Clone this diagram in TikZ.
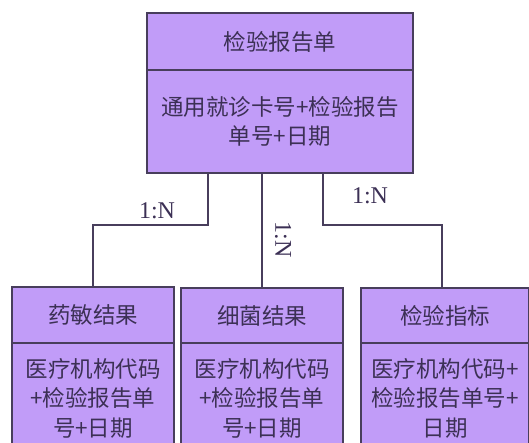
\documentclass[tikz,border=0pt]{standalone}
\usepackage{fontspec}
\newfontfamily\cjk{Noto Sans CJK SC}
\setmainfont{Liberation Serif}
\definecolor{boxfill}{RGB}{193,156,248}
\definecolor{edge}{RGB}{72,62,92}
\definecolor{txt}{RGB}{60,48,85}
\begin{document}
\begin{tikzpicture}[x=1pt,y=-1pt,
  box/.style={draw=edge, line width=1.4pt, fill=boxfill, inner sep=0pt, outer sep=0pt,
    text=txt, align=center, font=\cjk\fontsize{22.5}{29.5}\selectfont},
  link/.style={draw=edge, line width=1.4pt},
  card/.style={font=\fontsize{24}{26}\selectfont, text=txt, inner sep=0pt}]
\useasboundingbox (0,0) rectangle (529,443);
\clip (0,0) rectangle (529,443);
% top entity
\node[box, anchor=north west, minimum width=266pt, minimum height=57pt] (thead) at (147,13) {检验报告单};
\node[box, anchor=north, minimum width=266pt, minimum height=103pt] (tbody) at (thead.south) {通用就诊卡号+检验报告\\单号+日期};
% left entity
\node[box, anchor=north west, minimum width=162pt, minimum height=56pt] (lhead) at (12,287) {药敏结果};
\node[box, anchor=north, minimum width=162pt, minimum height=110pt] (lbody) at (lhead.south) {医疗机构代码\\+检验报告单\\号+日期};
% middle entity
\node[box, anchor=north west, minimum width=162pt, minimum height=55pt] (mhead) at (181,288) {细菌结果};
\node[box, anchor=north, minimum width=162pt, minimum height=110pt] (mbody) at (mhead.south) {医疗机构代码\\+检验报告单\\号+日期};
% right entity
\node[box, anchor=north west, minimum width=168pt, minimum height=55pt] (rhead) at (361,288) {检验指标};
\node[box, anchor=north, minimum width=168pt, minimum height=110pt] (rbody) at (rhead.south) {医疗机构代码+\\检验报告单号+\\日期};
% connectors
\draw[link] ([xshift=-72pt]tbody.south) -- ++(0,52) -| (lhead.north);
\draw[link] (mhead.north) -- (mhead.north |- tbody.south);
\draw[link] ([xshift=43pt]tbody.south) -- ++(0,52) -| ([xshift=-3pt]rhead.north);
% cardinalities
\node[card] (c1) at (157,211) {1:N};
\node[card, rotate=-90] (c2) at (283,240) {1:N};
\node[card] (c3) at (370,196) {1:N};
\end{tikzpicture}
\end{document}
